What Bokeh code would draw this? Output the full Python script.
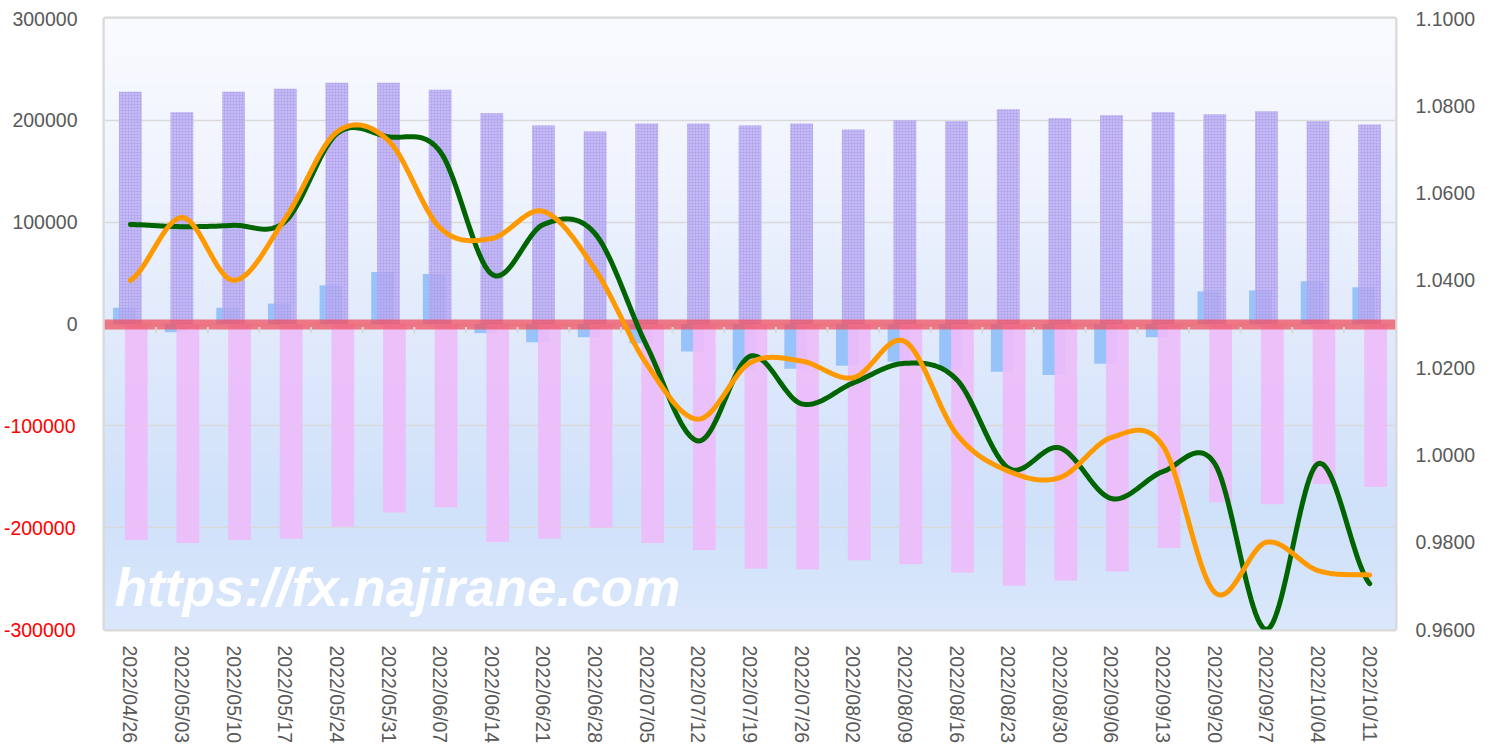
import math
import numpy as np
from bokeh.plotting import figure
from bokeh.models import FactorRange, Range1d, LinearAxis, FixedTicker, PrintfTickFormatter, Label
from bokeh.embed import file_html
from bokeh.resources import INLINE

dates = ["2022/04/26", "2022/05/03", "2022/05/10", "2022/05/17", "2022/05/24",
         "2022/05/31", "2022/06/07", "2022/06/14", "2022/06/21", "2022/06/28",
         "2022/07/05", "2022/07/12", "2022/07/19", "2022/07/26", "2022/08/02",
         "2022/08/09", "2022/08/16", "2022/08/23", "2022/08/30", "2022/09/06",
         "2022/09/13", "2022/09/20", "2022/09/27", "2022/10/04", "2022/10/11"]

long_pos = [228000, 208000, 228000, 231000, 237000, 237000, 230000, 207000, 195000, 189000,
            197000, 197000, 195000, 197000, 191000, 200000, 199000, 211000, 202000, 205000,
            208000, 206000, 209000, 199000, 196000]

short_pos = [-212000, -215000, -212000, -211000, -199000, -185000, -180000, -214000, -211000, -200000,
             -215000, -222000, -240000, -241000, -232000, -236000, -244000, -257000, -252000, -243000,
             -220000, -175000, -177000, -157000, -160000]

net_pos = [16000, -8000, 16000, 20000, 38000, 51000, 49000, -9000, -18000, -13000,
           -19000, -27000, -45000, -44000, -41000, -37000, -45000, -47000, -50000, -39000,
           -13000, 32000, 33000, 42000, 36000]

green_rate = [1.0528, 1.0523, 1.0526, 1.0535, 1.0736, 1.0729, 1.0695, 1.0414, 1.0528, 1.0507,
              1.0250, 1.0032, 1.0226, 1.0117, 1.0165, 1.0210, 1.0173, 0.9970, 1.0016, 0.9900,
              0.9962, 0.9980, 0.9600, 0.9980, 0.9705]

orange_rate = [1.0400, 1.0544, 1.0400, 1.0542, 1.0740, 1.0720, 1.0520, 1.0496, 1.0558, 1.0425,
               1.0208, 1.0082, 1.0211, 1.0215, 1.0177, 1.0260, 1.0048, 0.9963, 0.9948, 1.0040,
               1.0020, 0.9685, 0.9800, 0.9735, 0.9725]

left_pos_ticks = [0, 100000, 200000, 300000]
left_neg_ticks = [-100000, -200000, -300000]
right_ticks = [0.96, 0.98, 1.00, 1.02, 1.04, 1.06, 1.08, 1.10]
watermark = "https://fx.najirane.com"

FONT = "Liberation Sans"
GRAY = "#595959"
FS = "19.5px"

n = len(dates)
centers = np.arange(n) + 0.5

p = figure(width=1493, height=746, x_range=FactorRange(factors=dates),
           y_range=Range1d(-300000, 300000), output_backend="svg", toolbar_location=None,
           min_border_left=104, min_border_right=98, min_border_top=18, min_border_bottom=116)
p.extra_y_ranges = {"rate": Range1d(0.96, 1.10)}
p.background_fill_color = "#e4edfc"
p.border_fill_color = "white"
p.outline_line_color = "#d9d9d9"
p.outline_line_width = 4

# background gradient (styling only)
N = 612
frac_top = 1 - (np.arange(N) + 0.5) / N
stops = [0.0, 0.25, 0.5, 0.8, 0.9, 1.0]
cols = np.array([(250, 251, 255), (240, 244, 254), (226, 235, 252), (208, 225, 250),
                 (212, 228, 251), (220, 232, 252)], dtype=float)
rgba = np.zeros((N, 1, 4), dtype=np.uint8)
for k in range(3):
    rgba[:, 0, k] = np.interp(frac_top, stops, cols[:, k]).astype(np.uint8)
rgba[:, 0, 3] = 255
img = rgba.view(np.uint32).reshape(N, 1)
p.image_rgba(image=[img], x=0, y=-300000, dw=n, dh=600000, level="image")

# grid
p.xgrid.visible = False
p.ygrid.ticker = FixedTicker(ticks=left_neg_ticks + left_pos_ticks)
p.ygrid.grid_line_color = "#d9d9d9"
p.ygrid.grid_line_width = 1.5

# bars
bw = 0.44
p.vbar(x=centers - 0.115, top=net_pos, bottom=0, width=bw, fill_color="#98c3fa",
       line_color=None, fill_alpha=1.0)
p.vbar(x=centers, top=long_pos, bottom=0, width=bw, fill_color="#bbadf2", fill_alpha=0.82,
       line_color=None, hatch_pattern="+", hatch_color="#a797ea", hatch_scale=3,
       hatch_weight=1, hatch_alpha=0.4)
p.vbar(x=centers + 0.115, top=0, bottom=short_pos, width=bw, fill_color="#edbdfa",
       fill_alpha=0.92, line_color=None)

# zero line
p.hspan(y=[0], line_width=10, line_color="#f0505f", line_alpha=0.75)
# category boundary ticks on the zero axis
bounds = np.arange(1, n)
p.segment(x0=bounds, x1=bounds, y0=-3000, y1=-9000, line_color="#d8d8d8", line_width=2)


def smooth(vals, steps=24):
    xs, ys = [], []
    m = len(vals)
    for i in range(m - 1):
        p0 = vals[i - 1] if i > 0 else vals[i]
        p1, p2 = vals[i], vals[i + 1]
        p3 = vals[i + 2] if i + 2 < m else vals[i + 1]
        m1, m2 = (p2 - p0) / 2, (p3 - p1) / 2
        for t in np.linspace(0, 1, steps, endpoint=False):
            h00 = 2 * t**3 - 3 * t**2 + 1
            h10 = t**3 - 2 * t**2 + t
            h01 = -2 * t**3 + 3 * t**2
            h11 = t**3 - t**2
            xs.append(i + 0.5 + t)
            ys.append(h00 * p1 + h10 * m1 + h01 * p2 + h11 * m2)
    xs.append(m - 0.5)
    ys.append(vals[-1])
    return xs, ys


gx, gy = smooth(green_rate)
ox, oy = smooth(orange_rate)
p.line(gx, gy, y_range_name="rate", line_color="#006400", line_width=5,
       line_cap="round", line_join="round")
p.line(ox, oy, y_range_name="rate", line_color="#ff9900", line_width=5,
       line_cap="round", line_join="round")


def plain(ax):
    ax.axis_line_color = None
    ax.major_tick_line_color = None
    ax.minor_tick_line_color = None
    ax.major_tick_out = 0
    ax.major_tick_in = 0
    ax.minor_tick_out = 0
    ax.minor_tick_in = 0
    ax.major_label_text_font = FONT
    ax.major_label_text_font_size = FS


# axes
xa = p.xaxis[0]
plain(xa)
xa.major_label_orientation = -math.pi / 2
xa.major_label_text_color = GRAY
xa.major_label_standoff = 16

ya = p.yaxis[0]
plain(ya)
ya.ticker = FixedTicker(ticks=left_pos_ticks)
ya.formatter = PrintfTickFormatter(format="%d")
ya.major_label_text_color = GRAY
ya.major_label_standoff = 27

ya2 = LinearAxis(ticker=FixedTicker(ticks=left_neg_ticks), formatter=PrintfTickFormatter(format="%d"))
plain(ya2)
ya2.major_label_text_color = "#ff0000"
ya2.major_label_standoff = -66
p.add_layout(ya2, "left")

yr = LinearAxis(y_range_name="rate", ticker=FixedTicker(ticks=right_ticks),
                formatter=PrintfTickFormatter(format="%.4f"))
plain(yr)
yr.major_label_text_color = GRAY
yr.major_label_standoff = 20
p.add_layout(yr, "right")

# watermark
p.add_layout(Label(x=0.2, y=-259000, text=watermark, text_font="Liberation Sans",
                   text_font_style="bold italic", text_font_size="53px",
                   text_color="white", text_baseline="middle"))

open("out.html", "w").write(file_html(p, INLINE))
